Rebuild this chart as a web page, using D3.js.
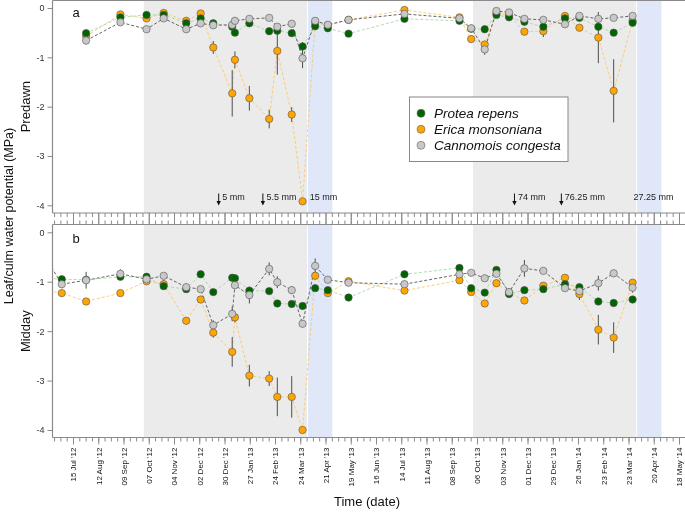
<!DOCTYPE html>
<html><head><meta charset="utf-8">
<script src="https://cdn.jsdelivr.net/npm/d3@7"></script>
<style>body{margin:0;background:#fff}svg{display:block;font-family:"Liberation Sans",Arial,Helvetica,sans-serif;will-change:transform}</style>
</head><body><svg id="c" width="685" height="513"></svg>
<script>
// ---------- data ----------
const dates = ["2012-06-12","2012-07-02","2012-07-29","2012-09-05","2012-10-04","2012-10-23","2012-11-17","2012-12-03","2012-12-17","2013-01-07","2013-01-10","2013-01-26","2013-02-17","2013-02-26","2013-03-14","2013-03-26","2013-04-09","2013-04-23","2013-05-16","2013-07-17","2013-09-16","2013-09-29","2013-10-14","2013-10-27","2013-11-10","2013-11-27","2013-12-18","2014-01-11","2014-01-27","2014-02-17","2014-03-06","2014-03-27"];
const speciesNames = ["Protea repens","Erica monsoniana","Cannomois congesta"];

// Predawn (panel a)
const predawnProtea = [null,null,-0.51,-0.19,-0.14,-0.14,-0.31,-0.21,-0.31,-0.38,-0.50,-0.31,-0.47,-0.46,-0.51,-0.78,-0.37,-0.41,-0.52,-0.22,-0.26,-0.42,-0.43,-0.14,-0.19,-0.28,-0.38,-0.21,-0.20,-0.38,-0.50,-0.30];
const predawnErica  = [null,null,-0.57,-0.13,-0.21,-0.10,-0.26,-0.11,-0.80,-1.73,-1.05,-1.83,-2.25,-0.87,-2.16,-3.92,-0.30,-0.35,-0.24,-0.04,-0.19,-0.63,-0.74,-0.10,-0.15,-0.48,-0.47,-0.16,-0.40,-0.60,-1.68,-0.26];
const predawnCanno  = [null,null,-0.66,-0.29,-0.43,-0.21,-0.43,-0.31,-0.35,-0.34,-0.26,-0.22,-0.20,-0.38,-0.32,-1.02,-0.26,-0.34,-0.24,-0.12,-0.21,-0.41,-0.84,-0.06,-0.09,-0.22,-0.24,-0.33,-0.16,-0.22,-0.20,-0.16];
const predawnProteaSE = [0,0,0.05,0.04,0.04,0.04,0.05,0.04,0.04,0.04,0.05,0.04,0.04,0.04,0.04,0.09,0.04,0.04,0.04,0.04,0.04,0.04,0.04,0.04,0.04,0.04,0.05,0.04,0.04,0.05,0.06,0.05];
const predawnEricaSE  = [0,0,0.05,0.06,0.05,0.05,0.06,0.07,0.13,0.47,0.17,0.25,0.19,0.48,0.15,0.05,0.04,0.04,0.04,0.06,0.04,0.05,0.06,0.04,0.04,0.05,0.12,0.05,0.06,0.52,0.64,0.06];
const predawnCannoSE  = [0,0,0.08,0.07,0.05,0.04,0.07,0.05,0.05,0.05,0.04,0.04,0.04,0.05,0.04,0.20,0.05,0.04,0.04,0.06,0.04,0.05,0.11,0.04,0.04,0.05,0.05,0.05,0.05,0.06,0.06,0.05];

// Midday (panel b)
const middayProtea = [-0.92,-0.95,-0.96,-0.90,-0.90,-1.09,-1.15,-0.85,-1.21,-0.92,-0.93,-1.18,-1.19,-1.44,-1.45,-1.49,-1.13,-1.17,-1.32,-0.85,-0.72,-1.13,-1.22,-0.76,-1.25,-1.17,-1.15,-1.05,-1.11,-1.40,-1.43,-1.36];
const middayErica  = [-1.18,-1.23,-1.40,-1.23,-0.99,-1.05,-1.79,-1.36,-2.03,-2.42,-1.72,-2.90,-2.96,-3.33,-3.33,-4.00,-0.88,-1.23,-0.99,-1.18,-0.97,-1.21,-1.44,-1.03,-1.22,-1.38,-1.08,-0.92,-1.25,-1.97,-2.13,-1.02];
const middayCanno  = [-0.45,-1.05,-0.97,-0.84,-0.95,-0.88,-1.11,-1.15,-1.88,-1.65,-1.07,-1.27,-0.74,-1.01,-1.17,-1.85,-0.68,-0.96,-1.02,-1.05,-0.85,-0.82,-0.93,-0.84,-1.21,-0.73,-0.78,-1.13,-1.19,-1.03,-0.83,-1.12];
const middayProteaSE = [0.04,0.05,0.04,0.05,0.04,0.05,0.05,0.04,0.04,0.04,0.04,0.05,0.04,0.04,0.04,0.05,0.04,0.04,0.04,0.04,0.05,0.04,0.04,0.04,0.05,0.04,0.04,0.05,0.06,0.05,0.04,0.05];
const middayEricaSE  = [0.05,0.07,0.05,0.05,0.05,0.08,0.07,0.05,0.10,0.30,0.10,0.22,0.15,0.39,0.42,0.04,0.07,0.05,0.05,0.06,0.05,0.05,0.06,0.05,0.05,0.07,0.05,0.05,0.12,0.30,0.31,0.05];
const middayCannoSE  = [0.05,0.08,0.17,0.09,0.05,0.05,0.07,0.05,0.10,0.15,0.07,0.17,0.13,0.12,0.08,0.07,0.15,0.06,0.05,0.07,0.05,0.05,0.06,0.05,0.05,0.17,0.06,0.06,0.10,0.15,0.06,0.10];

// dry season (grey) and transition (blue) shading
const drySeasons = [["2012-10-01","2013-03-31"],["2013-10-01","2014-03-31"]];
const wetOnsets  = [["2013-04-01","2013-04-28"],["2014-04-01","2014-04-28"]];

// rain events (panel a annotations)
const rainDates  = ["2012-12-23","2013-02-10","2013-04-03","2013-11-16","2014-01-07","2014-03-28"];
const rainLabels = ["5 mm","5.5 mm","15 mm","74 mm","76.25 mm","27.25 mm"];
const rainArrow  = [true,true,false,true,true,false];

// x axis major tick dates (every 4 weeks)
const majorTickDates = ["2012-07-15","2012-08-12","2012-09-09","2012-10-07","2012-11-04","2012-12-02","2012-12-30","2013-01-27","2013-02-24","2013-03-24","2013-04-21","2013-05-19","2013-06-16","2013-07-14","2013-08-11","2013-09-08","2013-10-06","2013-11-03","2013-12-01","2013-12-29","2014-01-26","2014-02-23","2014-03-23","2014-04-20","2014-05-18"];
const yTicks = [0,-1,-2,-3,-4];

// ---------- drawing ----------
const parse = d3.utcParse("%Y-%m-%d");
const fmt = d3.utcFormat("%d %b '%y");
const svg = d3.select("#c");
const X0 = 52.5, XR = 690;
const x = d3.scaleUtc().domain([parse("2012-07-15"), parse("2014-05-18")]).range([73.5, 679.5]);

const styles = [
  {fill:"#006400", line:"#a9d6a9"},
  {fill:"#ffa500", line:"#fcc76a"},
  {fill:"#c8c8c8", line:"#555555"}
];
const axisCol = "#8a8a8a";

const panels = [
  {label:"a", title:"Predawn", top:0.5, bottom:213, y:d3.scaleLinear().domain([0,-4]).range([8,205.3]),
   vals:[predawnProtea,predawnErica,predawnCanno], se:[predawnProteaSE,predawnEricaSE,predawnCannoSE]},
  {label:"b", title:"Midday", top:224.5, bottom:437.5, y:d3.scaleLinear().domain([0,-4]).range([232.3,430]),
   vals:[middayProtea,middayErica,middayCanno], se:[middayProteaSE,middayEricaSE,middayCannoSE]}
];

// minor weekly ticks
const t0 = parse("2012-07-15");
const minorTicks = d3.range(-5, 110).map(i => d3.utcDay.offset(t0, 7*i)).filter(d => x(d) >= X0 && x(d) <= 686);
const majors = majorTickDates.map(parse);

panels.forEach((p, pi) => {
  const g = svg.append("g");
  const clipId = "clip" + pi;
  svg.append("clipPath").attr("id", clipId).append("rect")
    .attr("x", X0).attr("y", p.top).attr("width", XR - X0).attr("height", p.bottom - p.top);

  const body = g.append("g").attr("clip-path", `url(#${clipId})`);
  drySeasons.forEach(s => body.append("rect")
    .attr("x", x(parse(s[0]))).attr("width", x(parse(s[1])) - x(parse(s[0])))
    .attr("y", p.top).attr("height", p.bottom - p.top).attr("fill", "#ebebeb"));
  wetOnsets.forEach(s => body.append("rect")
    .attr("x", x(parse(s[0]))).attr("width", x(parse(s[1])) - x(parse(s[0])))
    .attr("y", p.top).attr("height", p.bottom - p.top).attr("fill", "#dfe7f8"));

  const y = p.y;
  const order = [1, 0, 2];
  order.forEach(si => {
    const data = dates.map((d, i) => ({d: parse(d), v: p.vals[si][i]}));
    body.append("path").datum(data)
      .attr("fill", "none").attr("stroke", styles[si].line).attr("stroke-width", 0.9)
      .attr("stroke-dasharray", "3,2")
      .attr("d", d3.line().defined(e => e.v != null).x(e => x(e.d)).y(e => y(e.v)));
  });
  order.forEach(si => {
    dates.forEach((d, i) => {
      const v = p.vals[si][i], e = p.se[si][i];
      if (v == null || !e) return;
      body.append("line").attr("x1", x(parse(d))).attr("x2", x(parse(d)))
        .attr("y1", y(v - e)).attr("y2", y(v + e))
        .attr("stroke", "#4d4d4d").attr("stroke-width", 1);
    });
  });
  order.forEach(si => {
    body.append("g").selectAll("circle")
      .data(dates.map((d, i) => ({d: parse(d), v: p.vals[si][i]})).filter(e => e.v != null))
      .join("circle").attr("cx", e => x(e.d)).attr("cy", e => y(e.v)).attr("r", 3.7)
      .attr("fill", styles[si].fill).attr("stroke", "#555").attr("stroke-width", 0.6);
  });

  g.append("line").attr("x1", X0).attr("x2", X0).attr("y1", p.top).attr("y2", p.bottom).attr("stroke", axisCol).attr("stroke-width", 1.2);
  g.append("line").attr("x1", X0).attr("x2", XR).attr("y1", p.top).attr("y2", p.top).attr("stroke", axisCol).attr("stroke-width", 1.2);
  g.append("line").attr("x1", X0).attr("x2", XR).attr("y1", p.bottom).attr("y2", p.bottom).attr("stroke", axisCol).attr("stroke-width", 1.2);

  const ya = g.append("g").attr("transform", `translate(${X0},0)`)
    .call(d3.axisLeft(y).tickValues(yTicks).tickSize(5).tickPadding(3).tickFormat(d => String(d)));
  ya.select(".domain").remove();
  ya.selectAll("line").attr("stroke", axisCol);
  ya.selectAll("text").attr("font-size", 9).attr("fill", "#333").attr("font-family", "Liberation Sans, Arial, sans-serif");

  const tickRows = [{y: p.bottom, dir: 1}];
  if (pi === 1) tickRows.push({y: p.top, dir: -1});
  tickRows.forEach(r => {
    const tg = g.append("g");
    tg.selectAll("line.mi").data(minorTicks).join("line")
      .attr("x1", d => x(d)).attr("x2", d => x(d)).attr("y1", r.y).attr("y2", r.y + r.dir * 4)
      .attr("stroke", axisCol).attr("stroke-width", 1);
    tg.selectAll("line.ma").data(majors.filter(d => x(d) <= 686)).join("line")
      .attr("x1", d => x(d)).attr("x2", d => x(d)).attr("y1", r.y).attr("y2", r.y + r.dir * 7)
      .attr("stroke", axisCol).attr("stroke-width", 1);
  });

  g.append("text").attr("x", 72.5).attr("y", p.top + (pi === 0 ? 16.5 : 18.8)).attr("font-size", 13).attr("fill", "#111").text(p.label);
  const cy = (y(0) + y(-4)) / 2;
  g.append("text").attr("transform", `translate(29.5,${cy}) rotate(-90)`).attr("text-anchor", "middle")
    .attr("font-size", 13).attr("fill", "#111").text(p.title);
});

svg.append("g").selectAll("text").data(majors).join("text")
  .attr("transform", d => `translate(${x(d) + 2.8},447.5) rotate(-90)`)
  .attr("text-anchor", "end").attr("font-size", 8).attr("fill", "#111").text(d => fmt(d));

rainDates.forEach((d, i) => {
  const xx = x(parse(d));
  const ag = svg.append("g");
  if (rainArrow[i]) {
    ag.append("line").attr("x1", xx).attr("x2", xx).attr("y1", 193.5).attr("y2", 202.5).attr("stroke", "#111").attr("stroke-width", 1);
    ag.append("path").attr("d", `M${xx-2.2},${201} L${xx+2.2},${201} L${xx},${205.5} Z`).attr("fill", "#111");
  }
  ag.append("text").attr("x", rainArrow[i] ? xx + 3.5 : xx).attr("y", 199.5)
    .attr("font-size", 9).attr("fill", "#222").text(rainLabels[i]);
});

const lg = svg.append("g");
lg.append("rect").attr("x", 409.5).attr("y", 97).attr("width", 158.5).attr("height", 64.5)
  .attr("fill", "#fff").attr("stroke", "#888").attr("stroke-width", 1);
speciesNames.forEach((n, i) => {
  const yy = 113.3 + i * 16;
  lg.append("circle").attr("cx", 421).attr("cy", yy).attr("r", 4).attr("fill", styles[i].fill).attr("stroke", "#666").attr("stroke-width", 0.6);
  lg.append("text").attr("x", 434).attr("y", yy + 4.8).attr("font-size", 13.5).attr("font-style", "italic").attr("fill", "#111").text(n);
});

svg.append("text").attr("x", 367).attr("y", 506).attr("text-anchor", "middle").attr("font-size", 13).attr("fill", "#111").text("Time (date)");
svg.append("text").attr("transform", "translate(12.5,216) rotate(-90)").attr("text-anchor", "middle")
  .attr("font-size", 12.5).attr("fill", "#111").text("Leaf/culm water potential (MPa)");
</script>
</body></html>
